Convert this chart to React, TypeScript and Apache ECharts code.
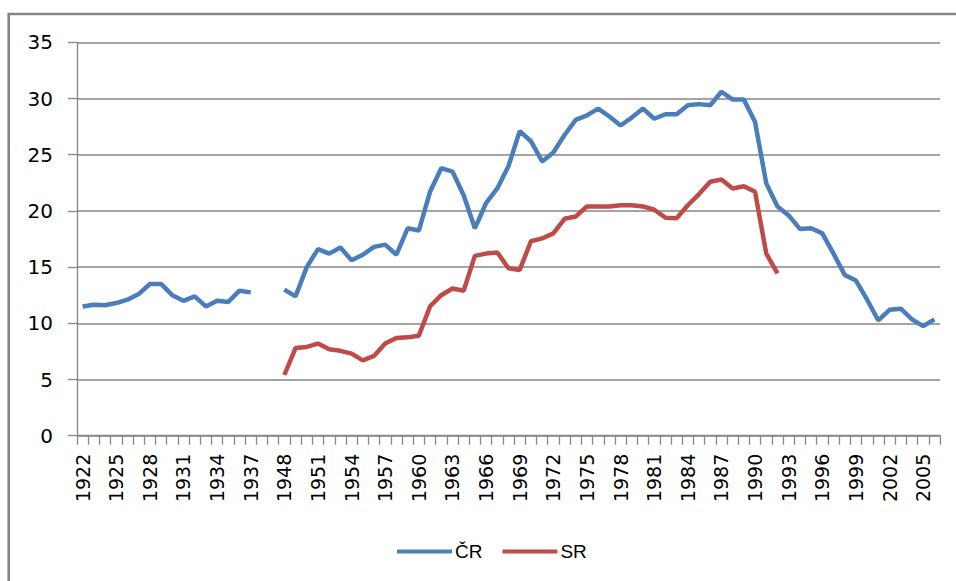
import React, { useEffect, useRef } from "react";
import * as echarts from "echarts";

const years: string[] = [
  "1922","1923","1924","1925","1926","1927","1928","1929","1930","1931","1932","1933","1934","1935","1936","1937",
  "1946","1947",
  "1948","1949","1950","1951","1952","1953","1954","1955","1956","1957","1958","1959","1960","1961","1962","1963",
  "1964","1965","1966","1967","1968","1969","1970","1971","1972","1973","1974","1975","1976","1977","1978","1979",
  "1980","1981","1982","1983","1984","1985","1986","1987","1988","1989","1990","1991","1992","1993","1994","1995",
  "1996","1997","1998","1999","2000","2001","2002","2003","2004","2005","2006",
];

const crValues: (number | null)[] = [
  11.5, 11.65, 11.6, 11.8, 12.1, 12.6, 13.5, 13.5, 12.5, 12.0, 12.4, 11.5, 12.0, 11.9, 12.9, 12.75,
  null, null,
  13.0, 12.4, 15.0, 16.6, 16.2, 16.75, 15.6, 16.1, 16.8, 17.0, 16.1, 18.45, 18.25, 21.7, 23.8, 23.5,
  21.4, 18.45, 20.7, 22.0, 24.0, 27.1, 26.2, 24.4, 25.2, 26.75, 28.1, 28.5, 29.1, 28.4, 27.6, 28.3,
  29.1, 28.2, 28.6, 28.6, 29.4, 29.5, 29.4, 30.6, 29.9, 29.9, 27.9, 22.45, 20.4, 19.6, 18.4, 18.45,
  18.0, 16.2, 14.3, 13.8, 12.1, 10.25, 11.2, 11.3, 10.35, 9.75, 10.35,
];

const srValues: (number | null)[] = [
  null, null, null, null, null, null, null, null, null, null, null, null, null, null, null, null,
  null, null,
  5.4, 7.8, 7.9, 8.2, 7.7, 7.55, 7.3, 6.7, 7.1, 8.2, 8.7, 8.75, 8.9, 11.5, 12.5, 13.1,
  12.9, 16.0, 16.2, 16.3, 14.9, 14.75, 17.3, 17.55, 18.0, 19.3, 19.5, 20.4, 20.4, 20.4, 20.5, 20.5,
  20.4, 20.1, 19.4, 19.35, 20.5, 21.5, 22.6, 22.8, 22.0, 22.2, 21.7, 16.2, 14.45, null, null, null,
  null, null, null, null, null, null, null, null, null, null, null,
];

const seriesNames = ["ČR", "SR"];

export default function App() {
  const ref = useRef<HTMLDivElement>(null);
  useEffect(() => {
    if (!ref.current) return;
    const chart = echarts.init(ref.current, undefined, { renderer: "svg" });
    const gray = "#868686";
    chart.setOption({
      animation: false,
      backgroundColor: "#ffffff",
      graphic: [
        {
          type: "rect",
          shape: { x: 8.7, y: 14, width: 980, height: 620 },
          style: { fill: "none", stroke: gray, lineWidth: 2.6 },
          silent: true,
        },
      ],
      legend: {
        data: seriesNames,
        top: 537,
        left: 392,
        itemWidth: 55,
        itemHeight: 4,
        itemGap: 20,
        icon: "rect",
        textStyle: { fontFamily: "Liberation Sans", fontSize: 19, color: "#000", padding: [0, 0, 0, -2] },
      },
      grid: { left: 77, right: 16, top: 42.3, bottom: 145.3 },
      xAxis: {
        type: "category",
        data: years,
        boundaryGap: true,
        axisLine: { show: true, lineStyle: { color: gray, width: 1.3 } },
        axisTick: { show: true, interval: 0, length: 9, lineStyle: { color: gray, width: 1.3 } },
        axisLabel: {
          interval: 2,
          rotate: 90,
          margin: 18,
          fontFamily: "DejaVu Sans",
          fontSize: 19,
          color: "#000",
        },
        splitLine: { show: false },
      },
      yAxis: {
        type: "value",
        min: 0,
        max: 35,
        interval: 5,
        axisLine: { show: true, lineStyle: { color: gray, width: 1.3 } },
        axisTick: { show: true, length: 9, lineStyle: { color: gray, width: 1.3 } },
        axisLabel: { margin: 24, fontFamily: "DejaVu Sans", fontSize: 20, color: "#000" },
        splitLine: { show: true, lineStyle: { color: gray, width: 1.5 } },
      },
      series: [
        {
          name: seriesNames[0],
          type: "line",
          data: crValues,
          connectNulls: false,
          symbol: "none",
          lineStyle: { color: "#4a7ebb", width: 4.5 },
          itemStyle: { color: "#4a7ebb" },
        },
        {
          name: seriesNames[1],
          type: "line",
          data: srValues,
          connectNulls: false,
          symbol: "none",
          lineStyle: { color: "#be4b48", width: 4.5 },
          itemStyle: { color: "#be4b48" },
        },
      ],
    });
    return () => chart.dispose();
  }, []);
  return (
    <div
      ref={ref}
      style={{ position: "fixed", left: 0, top: 0, width: 956, height: 581 }}
    />
  );
}
